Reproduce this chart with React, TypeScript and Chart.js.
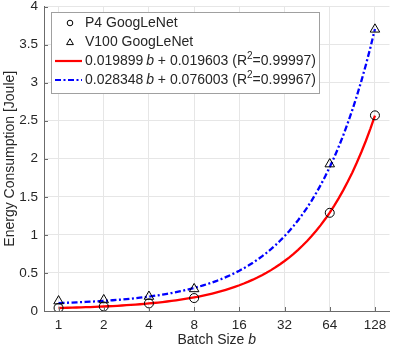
import React, { useEffect, useRef } from "react";
import { Chart, registerables } from "chart.js";

Chart.register(...registerables);

// ---- data ----
const batchSizes = [1, 2, 4, 8, 64, 128];
const p4Energy = [0.04, 0.06, 0.1, 0.17, 1.29, 2.57];
const v100Energy = [0.13, 0.145, 0.19, 0.29, 1.93, 3.7];
const xTickValues = [1, 2, 4, 8, 16, 32, 64, 128];
const yTickValues = [0, 0.5, 1, 1.5, 2, 2.5, 3, 3.5, 4];
const p4FitCoef = [0.019899, 0.019603];
const v100FitCoef = [0.028348, 0.076003];
const p4FitLabel = ["0.019899", "0.019603", "0.99997"];
const v100FitLabel = ["0.028348", "0.076003", "0.99967"];
const seriesNames = ["P4 GoogLeNet", "V100 GoogLeNet"];
const xTitle = "Batch Size ";
const xTitleVar = "b";
const yTitle = "Energy Consumption [Joule]";

// sampling grid (in b) for drawing the fitted lines given by the legend coefficients
const fitB: number[] = [];
for (let k = 0; k <= 70; k++) fitB.push(Math.pow(2, k / 10));

const FONT = '"Liberation Sans", Arial, Helvetica, sans-serif';
const TEXT = "#262626";
const AXIS = "#6b6b6b";
const GRID = "#e6e6e6";

function drawRich(ctx: CanvasRenderingContext2D, x: number, y: number, parts: { t: string; f: string; dy?: number }[]) {
  let cx = x;
  ctx.textBaseline = "middle";
  ctx.textAlign = "left";
  for (const p of parts) {
    ctx.font = p.f;
    ctx.fillText(p.t, cx, y + (p.dy || 0));
    cx += ctx.measureText(p.t).width;
  }
  return cx;
}

const overlayPlugin = {
  id: "overlay",
  afterDraw(chart: any) {
    const ctx: CanvasRenderingContext2D = chart.ctx;
    const area = chart.chartArea;
    const xs = chart.scales.x;
    const ys = chart.scales.y;
    ctx.save();
    // inward ticks
    ctx.strokeStyle = AXIS;
    ctx.lineWidth = 1;
    ctx.beginPath();
    for (const v of xTickValues) {
      const px = Math.round(xs.getPixelForValue(v)) + 0.5;
      ctx.moveTo(px, area.bottom);
      ctx.lineTo(px, area.bottom - 4);
    }
    for (const v of yTickValues) {
      const py = Math.round(ys.getPixelForValue(v)) + 0.5;
      ctx.moveTo(area.left, py);
      ctx.lineTo(area.left + 4, py);
    }
    ctx.stroke();

    // axis titles
    ctx.fillStyle = TEXT;
    const normal = `14px ${FONT}`;
    const ital = `italic 14px ${FONT}`;
    ctx.font = normal;
    const w1 = ctx.measureText(xTitle).width;
    ctx.font = ital;
    const w2 = ctx.measureText(xTitleVar).width;
    const cx = (area.left + area.right) / 2;
    drawRich(ctx, cx - (w1 + w2) / 2, 340, [
      { t: xTitle, f: normal },
      { t: xTitleVar, f: ital },
    ]);
    ctx.save();
    ctx.translate(10, (area.top + area.bottom) / 2);
    ctx.rotate(-Math.PI / 2);
    ctx.font = normal;
    ctx.textAlign = "center";
    ctx.textBaseline = "middle";
    ctx.fillText(yTitle, 0, 0);
    ctx.restore();

    // legend
    const bx = 51.5, by = 12.5, bw = 268, bh = 81;
    ctx.fillStyle = "#ffffff";
    ctx.fillRect(bx, by, bw, bh);
    ctx.strokeStyle = "#a0a0a0";
    ctx.lineWidth = 1;
    ctx.strokeRect(bx, by, bw, bh);
    const rows = [23, 42, 61, 80];
    const mx = 70;
    const tx = 85;
    ctx.strokeStyle = "#000";
    ctx.lineWidth = 1;
    ctx.beginPath();
    ctx.arc(mx, rows[0], 2.8, 0, Math.PI * 2);
    ctx.stroke();
    ctx.beginPath();
    ctx.moveTo(mx, rows[1] - 3.3);
    ctx.lineTo(mx + 3.4, rows[1] + 2.6);
    ctx.lineTo(mx - 3.4, rows[1] + 2.6);
    ctx.closePath();
    ctx.stroke();
    ctx.lineWidth = 2.2;
    ctx.strokeStyle = "#ff0000";
    ctx.beginPath();
    ctx.moveTo(55, rows[2]);
    ctx.lineTo(82, rows[2]);
    ctx.stroke();
    ctx.strokeStyle = "#0000ff";
    ctx.setLineDash([6, 2.5, 2, 2.5]);
    ctx.beginPath();
    ctx.moveTo(55, rows[3]);
    ctx.lineTo(82, rows[3]);
    ctx.stroke();
    ctx.setLineDash([]);
    ctx.fillStyle = TEXT;
    const lf = `14px ${FONT}`;
    const li = `italic 14px ${FONT}`;
    const sf = `10px ${FONT}`;
    drawRich(ctx, tx, rows[0], [{ t: seriesNames[0], f: lf }]);
    drawRich(ctx, tx, rows[1], [{ t: seriesNames[1], f: lf }]);
    const fitParts = (lab: string[]) => [
      { t: lab[0] + "\u2009", f: lf },
      { t: "b", f: li },
      { t: " + " + lab[1] + " (R", f: lf },
      { t: "2", f: sf, dy: -5 },
      { t: "=" + lab[2] + ")", f: lf },
    ];
    drawRich(ctx, tx, rows[2], fitParts(p4FitLabel));
    drawRich(ctx, tx, rows[3], fitParts(v100FitLabel));
    ctx.restore();
  },
};

export default function App() {
  const ref = useRef<HTMLCanvasElement | null>(null);
  useEffect(() => {
    if (!ref.current) return;
    const p4Pts = batchSizes.map((b, i) => ({ x: b, y: p4Energy[i] }));
    const v100Pts = batchSizes.map((b, i) => ({ x: b, y: v100Energy[i] }));
    const p4Line = fitB.map((b) => ({ x: b, y: p4FitCoef[0] * b + p4FitCoef[1] }));
    const v100Line = fitB.map((b) => ({ x: b, y: v100FitCoef[0] * b + v100FitCoef[1] }));
    const chart = new Chart(ref.current, {
      type: "scatter",
      data: {
        datasets: [
          {
            label: seriesNames[0],
            data: p4Pts,
            showLine: false,
            pointStyle: "circle",
            pointRadius: 4.5,
            borderColor: "#000",
            backgroundColor: "rgba(0,0,0,0)",
            borderWidth: 1,
            order: 1,
          },
          {
            label: seriesNames[1],
            data: v100Pts,
            showLine: false,
            pointStyle: "triangle",
            pointRadius: 5.5,
            borderColor: "#000",
            backgroundColor: "rgba(0,0,0,0)",
            borderWidth: 1,
            order: 1,
          },
          {
            label: "p4fit",
            data: p4Line,
            showLine: true,
            pointRadius: 0,
            borderColor: "#ff0000",
            borderWidth: 2.3,
            tension: 0,
            order: 2,
          },
          {
            label: "v100fit",
            data: v100Line,
            showLine: true,
            pointRadius: 0,
            borderColor: "#0000ff",
            borderWidth: 2.3,
            borderDash: [6, 2.5, 2, 2.5],
            tension: 0,
            order: 2,
          },
        ] as any,
      },
      options: {
        animation: false,
        responsive: false,
        layout: { padding: { left: 0, right: 1, top: 5, bottom: 0 } },
        plugins: { legend: { display: false }, tooltip: { enabled: false } },
        scales: {
          x: {
            type: "logarithmic",
            min: 0.8,
            max: 160,
            afterBuildTicks: (s: any) => {
              s.ticks = xTickValues.map((v) => ({ value: v }));
            },
            afterFit: (s: any) => {
              s.height = 39;
              s.paddingLeft = 0;
              s.paddingRight = 0;
            },
            ticks: {
              autoSkip: false,
              maxRotation: 0,
              padding: 6,
              color: TEXT,
              font: { family: FONT, size: 13.5 },
              callback: (v: any) => String(v),
            },
            grid: { color: GRID, drawTicks: false, lineWidth: 1 },
            border: { display: true, color: AXIS, width: 1 },
          },
          y: {
            type: "linear",
            min: 0,
            max: 4,
            afterBuildTicks: (s: any) => {
              s.ticks = yTickValues.map((v) => ({ value: v }));
            },
            afterFit: (s: any) => {
              s.width = 44;
              s.paddingTop = 0;
              s.paddingBottom = 0;
            },
            ticks: {
              padding: 6,
              color: TEXT,
              font: { family: FONT, size: 13.5 },
              callback: (v: any) => String(v),
            },
            grid: { color: GRID, drawTicks: false, lineWidth: 1 },
            border: { display: true, color: AXIS, width: 1 },
          },
        },
      },
      plugins: [overlayPlugin],
    });
    return () => chart.destroy();
  }, []);
  return (
    <div style={{ position: "absolute", left: 0, top: 0, width: 396, height: 350, background: "#fff" }}>
      <canvas ref={ref} width={396} height={350} style={{ display: "block", width: 396, height: 350 }} />
    </div>
  );
}
